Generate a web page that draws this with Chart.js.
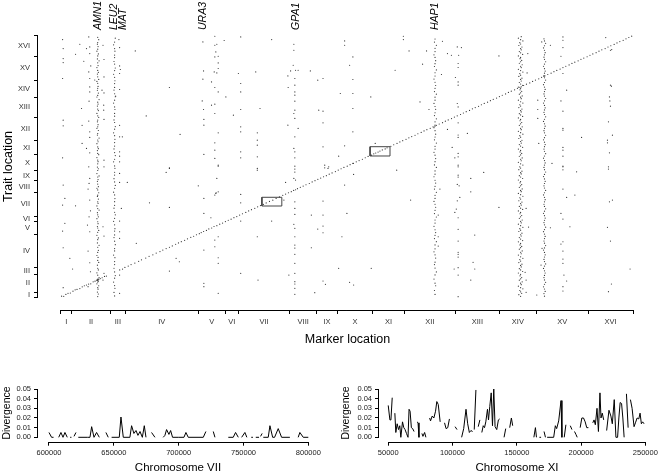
<!DOCTYPE html>
<html>
<head>
<meta charset="utf-8">
<script src="https://cdn.jsdelivr.net/npm/chart.js@4.4.0/dist/chart.umd.min.js"></script>
<style>
body { margin: 0; background: #fff; }
#wrap { position: relative; width: 661px; height: 474px; }
canvas { position: absolute; }
</style>
</head>
<body>
<div id="wrap">
<canvas id="main" width="661" height="350" style="left:0;top:0"></canvas>
<canvas id="chrVII" width="330" height="114" style="left:0;top:360px"></canvas>
<canvas id="chrXI" width="331" height="114" style="left:330px;top:360px"></canvas>
</div>
<script>
// chromosome layout (kb, cumulative genome position)
const chromNames = ['I','II','III','IV','V','VI','VII','VIII','IX','X','XI','XII','XIII','XIV','XV','XVI'];
const chromStarts = [0,230,1043,1360,2892,3469,3739,4830,5393,5833,6578,7245,8323,9247,10031,11122];
const genomeEnd = 12070;

// hotspot labels on top (marker position, kb)
const geneNames = ['AMN1','LEU2','MAT','URA3','GPA1','HAP1'];
const genePos = [787,1123,1312,3002,4964,7903];

// highlighted regions [x0, x1, y0, y1] in kb
const boxVII = [4240,4660,4208,4611];
const boxXI = [6522,6942,6521,6951];

// [marker kb, trait kb]
const diag = [[15,40],[60,30],[105,120],[150,170],[200,185],[255,270],[300,330],[340,350],[400,390],[450,470],[495,520],[540,555],[585,600],[630,610],[680,700],[720,730],[755,780],[780,790],[800,810],[830,850],[870,890],[920,950],[960,970],
[1240,1250],[1300,1290],[1350,1370],[1420,1430],[1480,1500],[1560,1570],[1640,1650],[1700,1720],[1790,1800],[1860,1880],[1940,1950],[2010,2030],[2090,2100],[2150,2170],[2220,2240],[2290,2300],[2350,2360],[2420,2440],[2480,2500],[2540,2560],[2610,2620],[2670,2690],[2740,2760],[2800,2810],[2860,2880],[2920,2930],[2960,2980],[3010,3030],[3070,3080],[3120,3150],[3180,3190],[3230,3260],[3290,3300],[3350,3370],[3410,3420],[3470,3490],[3530,3550],[3590,3600],[3650,3670],[3710,3720],[3770,3790],[3830,3850],[3900,3910],[3960,3980],[4020,4040],[4090,4100],[4150,4170],[4210,4230],[4270,4280],[4330,4350],[4400,4420],[4470,4480],[4540,4560],[4610,4630],[4680,4700],[4740,4760],[4800,4820],
[4860,4870],[4910,4930],[4950,4960],[4990,5010],[5050,5070],[5110,5130],[5170,5190],[5240,5250],[5300,5320],[5360,5380],[5420,5440],[5480,5500],[5540,5560],[5600,5610],[5660,5680],[5720,5740],[5790,5800],[5850,5870],[5910,5930],[5970,5990],[6040,6050],[6100,6120],[6170,6180],[6230,6250],[6290,6310],[6360,6370],[6420,6440],[6480,6500],[6550,6560],[6600,6620],[6640,6660],[6690,6700],[6730,6750],[6780,6800],[6840,6850],[6880,6900],[6960,6970],[7020,7040],[7090,7100],[7150,7170],[7210,7230],[7280,7290],[7340,7360],[7400,7420],[7470,7480],[7530,7550],[7600,7610],[7660,7680],[7720,7740],[7790,7800],[7850,7870],[7890,7900],[7920,7940],[7980,8000],[8050,8060],[8110,8130],[8170,8190],[8240,8250],[8300,8320],[8360,8380],[8430,8440],[8490,8510],[8550,8570],[8620,8630],[8680,8700],[8740,8760],[8810,8820],[8870,8890],[8930,8950],[9000,9010],[9060,9080],[9120,9140],[9190,9200],[9250,9270],[9310,9330],[9380,9390],[9440,9460],[9500,9520],[9570,9580],[9630,9650],[9680,9700],[9710,9720],[9760,9780],[9820,9840],[9890,9900],[9950,9970],[10010,10030],[10080,10090],[10140,10160],[10190,10200],[10210,10230],[10270,10290],[10340,10350],[10400,10420],[10460,10480],[10530,10540],[10590,10610],[10650,10670],[10720,10730],[10780,10800],[10840,10860],[10910,10920],[10970,10990],[11030,11050],[11100,11110],[11160,11180],[11220,11240],[11290,11300],[11350,11370],[11410,11430],[11480,11490],[11540,11560],[11600,11620],[11670,11680],[11730,11750],[11790,11810],[11860,11870],[11920,11940],[11980,12000],[12040,12060]];

const amn1 = [[777,20],[790,140],[770,230],[784,360],[777,430],[798,520],[760,610],[777,690],[790,730],[770,770],[777,800],[784,840],[805,900],[777,1010],[760,1120],[790,1250],[777,1330],[770,1470],[798,1600],[777,1690],[784,1830],[760,1920],[777,2060],[790,2160],[777,2300],[805,2390],[770,2500],[777,2650],[790,2730],[760,2850],[777,2990],[798,3080],[777,3190],[770,3260],[784,3390],[777,3480],[760,3620],[790,3710],[777,3800],[770,3900],[805,4020],[777,4090],[760,4210],[784,4330],[777,4400],[790,4530],[770,4650],[777,4710],[798,4820],[777,4950],[760,5030],[790,5100],[777,5220],[770,5350],[784,5430],[777,5550],[805,5600],[760,5710],[777,5850],[790,5930],[770,6010],[777,6160],[784,6260],[777,6330],[760,6450],[798,6580],[777,6640],[770,6770],[790,6860],[777,6940],[760,7090],[784,7180],[777,7260],[805,7350],[770,7490],[777,7560],[790,7700],[760,7800],[777,7870],[784,7970],[770,8100],[777,8180],[798,8310],[777,8380],[760,8490],[790,8620],[777,8690],[770,8830],[784,8920],[777,9010],[805,9130],[760,9250],[777,9320],[790,9430],[770,9560],[777,9650],[784,9740],[777,9880],[760,9970],[798,10060],[777,10180],[770,10310],[790,10390],[777,10480],[760,10610],[784,10700],[777,10830],[805,10920],[770,11010],[777,11150],[790,11240],[760,11370],[777,11460],[784,11580],[770,11690],[777,11770],[798,11900],[777,12010]];

const leu2 = [[1133,50],[1120,210],[1140,400],[1133,530],[1112,690],[1133,870],[1147,990],[1133,1160],[1120,1330],[1133,1500],[1133,1640],[1140,1820],[1112,1940],[1133,2130],[1133,2240],[1147,2420],[1133,2580],[1120,2750],[1133,2870],[1133,3050],[1140,3160],[1133,3340],[1112,3500],[1133,3640],[1147,3800],[1133,3920],[1120,4110],[1133,4240],[1133,4410],[1140,4550],[1133,4720],[1112,4850],[1133,5030],[1147,5160],[1133,5320],[1120,5470],[1133,5640],[1133,5770],[1140,5950],[1133,6060],[1112,6250],[1133,6370],[1147,6540],[1133,6680],[1120,6850],[1133,6980],[1133,7140],[1140,7290],[1133,7460],[1112,7590],[1133,7760],[1147,7880],[1133,8070],[1120,8190],[1133,8360],[1133,8490],[1140,8670],[1133,8790],[1112,8970],[1133,9100],[1147,9260],[1133,9400],[1120,9570],[1133,9690],[1133,9870],[1140,10000],[1133,10160],[1112,10300],[1133,10470],[1147,10590],[1133,10770],[1120,10890],[1133,11070],[1133,11190],[1140,11370],[1133,11490],[1112,11660],[1133,11790],[1147,11970]];

const leftCols = [[36,11906],[48,11490],[48,11028],[48,10843],[36,10104],[48,8177],[48,7914],[36,6436],[48,5174],[36,4250],[36,3049],[48,2277],[48,430],[84,4560],[84,3405],[189,1788],[246,1294],[309,4218],[309,11227],[399,11689],[435,8718],[447,7937],[447,7101],[483,10903],[540,11490],[540,6870],
[588,12026],[609,11564],[609,11259],[630,10686],[588,10409],[609,10104],[609,9716],[609,9485],[594,9055],[588,8135],[609,7637],[609,7378],[609,6667],[588,6020],[609,5484],[594,5253],[573,4990],[609,4481],[624,3987],[594,3710],[561,3326],[609,3017],[573,2125],[609,1584],[624,1168],[573,476],[714,10034],
[888,11642],[909,10982],[909,10178],[867,9563],[909,9439],[903,8870],[903,8639],[909,8210],[909,6329],[909,6020],[888,3248],[909,2818],[909,1095],[888,785],
[1224,11906],[1238,11536],[1238,10686],[1254,10520],[1238,10335],[1238,9596],[1155,9286],[1238,7937],[1238,7406],[1296,7406],[1238,6713],[1238,6514],[1238,6251],[1238,5715],[1238,5299],[1401,5299],[1275,4098],[1238,3511],[1238,3017],[1238,2712],[1238,1016],[1238,171]];

const midCols = [[1569,11379],[2289,9688],[1800,8376],[2514,7517],[2289,5974],[1590,2481],[1869,4357],[2220,5761],[2289,5946],[2289,4144],[2289,1201],[2430,1788],[2499,1631],[2898,5142],[3480,9254],[3639,8408],[3444,11861],[3744,10335],
[2995,11795],[3009,10455],[2995,10072],[2981,9069],[3009,8672],[3016,8210],[3016,7946],[3016,6593],[3016,4560],[3016,3867],[3016,2171],[3016,633],[3016,476],
[3247,12058],[3247,11642],[3289,11689],[3268,11333],[3247,11102],[3318,11134],[3318,10825],[3318,10566],[3234,10409],[3289,10363],[3177,9947],[3247,9688],[3318,9485],[3247,8917],[3177,8870],[3247,8487],[3318,7591],[3247,7129],[3247,6791],[3247,6408],[3318,6052],[3318,6098],[3289,5484],[3318,4865],[3247,4712],[3275,4820],[3268,4790],[3164,3664],[3247,2633],[3247,2324],[3318,1816],[3318,1557],[3318,171],[3318,2786],
[3793,12026],[3793,9873],[3793,9485],[3793,8672],[3793,7868],[3793,7637],[3793,6713],[3793,6436],[3793,4745],[3793,4357],[3793,3511],[3793,1095],
[4446,11906],[4110,10409],[4200,8718],[4143,7591],[4143,7253],[4143,7022],[4143,6482],[4143,5946],[4143,5867],[4158,785],[4143,2786],[4446,3511],[4740,5299],[4704,4481],[4788,10224],[4794,9688],[4788,7946],[4809,1016]];

const gpa1 = [[4914,11689],[4914,11411],[4900,10718],[4845,10455],[4949,10487],[5004,10487],[4935,10104],[4935,9794],[4935,9485],[4935,9332],[4935,9055],[4935,8639],[4914,8487],[4935,8256],[5004,7794],[4935,7406],[4914,6870],[4935,6713],[4935,6436],[4935,6052],[4935,5914],[4935,5775],[4914,5484],[4949,5405],[4935,4403],[4935,4098],[4935,3821],[4914,3359],[4935,3174],[4935,2786],[4935,2402],[4935,2264],[4935,1973],[4935,1557],[4935,1095],[4935,707],[4935,601],[4935,402],[4935,125],
[5262,10455],[5418,10025],[5529,10104],[5439,8639],[5529,8593],[5529,8053],[5529,6944],[5649,6020],[5565,6098],[5283,3788],[5418,3142],[5529,4435],[5529,3788],[5529,3280],[5529,2971],[5283,2278],[5529,739],[5580,587],[5355,199],[5634,5946],[5565,5974],
[5985,11841],[5985,11642],[6159,11102],[6090,10718],[6159,10058],[6159,9411],[5894,9411],[6159,8718],[6159,7637],[5985,6990],[5859,6514],[6159,6177],[6033,3867],[5985,5174],[5928,2786],[6174,5669],[5859,1326],[6090,679],[6174,554]];

const hap1 = [[7892,120],[7880,300],[7905,520],[7892,640],[7870,830],[7892,1020],[7920,1160],[7892,1340],[7880,1500],[7892,1610],[7905,1800],[7892,1950],[7870,2090],[7892,2230],[7892,2410],[7920,2560],[7880,2700],[7892,2850],[7905,2980],[7892,3110],[7870,3270],[7892,3420],[7892,3560],[7920,3700],[7880,3860],[7892,4010],[7905,4150],[7892,4290],[7870,4420],[7892,4560],[7892,4700],[7920,4840],[7880,4990],[7892,5120],[7905,5270],[7892,5400],[7870,5560],[7892,5680],[7892,5830],[7920,5990],[7880,6110],[7892,6260],[7905,6400],[7892,6560],[7870,6690],[7892,6840],[7892,6970],[7920,7120],[7880,7270],[7892,7400],[7905,7530],[7892,7690],[7870,7830],[7892,7950],[7892,8100],[7920,8240],[7880,8390],[7892,8520],[7905,8680],[7892,8810],[7870,8950],[7892,9100],[7892,9240],[7920,9380],[7880,9500],[7892,9650],[7905,9780],[7892,9930],[7870,10080],[7892,10220],[7892,10370],[7920,10500],[7880,10660],[7892,10790],[7905,10930],[7892,11080],[7870,11200],[7892,11350],[7892,11500],[7920,11640],[7880,11790],[7892,11930]];

const colXIII = [[8361,11564],[8390,11180],[8379,10797],[8379,10612],[8322,10150],[8379,9947],[8379,9794],[8361,8949],[8379,8792],[8379,8053],[8379,7491],[8379,7378],[8379,6639],[8379,6482],[8379,6098],[8379,6020],[8379,5636],[8379,5544],[8361,5207],[8400,5142],[8415,4606],[8361,4449],[8340,4066],[8310,3913],[8379,3664],[8379,3128],[8379,2587],[8379,2065],[8379,1973],[8379,1848],[8379,1354],[8379,1016],[8379,14]];

const rightScatter = [[6537,9254],[7050,10487],[7224,12058],[7224,11906],[7344,11379],[7713,11379],[7575,9023],[7629,10765],[7764,8672],[6546,1326],[7083,5867],[7377,4481],[6630,7101],[8049,11827],[8154,11259],[8238,11180],[8028,10289],[8154,7748],[8253,6916],[8310,6436],[8574,7563],[8448,11536],[7995,4990],[7959,3788],[7959,2786],[7959,2356],[8295,1294],[8919,5761],[8646,5484],[8646,4865],[9240,4144],[8730,2864],[8694,1603],[8730,1294],[8646,785],[9240,11148],[9849,11259],[9834,10363],[10059,9101],[10059,8672],[10059,8256],[10080,7101],[10359,6177],[10143,11795],[10326,11642],[10548,11134],[10668,9563],[10548,9069],[10983,7378],[11493,11998],[11619,11444],[9864,3234],[9813,4098],[9792,1141],[9813,785],[9813,217],[10038,92],[10128,1478],[10149,2250],[10326,3202],[10878,5789],[10668,4606],[10842,4712],[10737,3248],[10668,739],[12006,1294]];

const mkt1 = [[9697,30],[9660,110],[9720,170],[9697,240],[9680,300],[9745,380],[9697,430],[9650,500],[9710,570],[9697,640],[9730,700],[9670,780],[9697,840],[9720,900],[9685,980],[9697,1050],[9650,1110],[9740,1180],[9697,1250],[9670,1310],[9710,1390],[9697,1460],[9725,1520],[9660,1590],[9697,1660],[9680,1730],[9745,1790],[9697,1860],[9650,1940],[9710,2000],[9697,2070],[9730,2130],[9670,2210],[9697,2280],[9720,2340],[9685,2410],[9697,2480],[9650,2550],[9740,2610],[9697,2680],[9670,2750],[9710,2820],[9697,2880],[9725,2950],[9660,3030],[9697,3090],[9680,3160],[9745,3220],[9697,3300],[9650,3370],[9710,3430],[9697,3500],[9730,3560],[9670,3640],[9697,3710],[9720,3770],[9685,3850],[9697,3910],[9650,3980],[9740,4050],[9697,4110],[9670,4190],[9710,4250],[9697,4320],[9725,4390],[9660,4450],[9697,4530],[9680,4590],[9745,4660],[9697,4730],[9650,4790],[9710,4870],[9697,4930],[9730,5000],[9670,5070],[9697,5140],[9720,5200],[9685,5280],[9697,5340],[9650,5410],[9740,5480],[9697,5550],[9670,5610],[9710,5690],[9697,5750],[9725,5820],[9660,5890],[9697,5960],[9680,6020],[9745,6100],[9697,6160],[9650,6230],[9710,6300],[9697,6370],[9730,6430],[9670,6510],[9697,6570],[9720,6640],[9685,6710],[9697,6780],[9650,6840],[9740,6920],[9697,6980],[9670,7050],[9710,7120],[9697,7190],[9725,7250],[9660,7330],[9697,7390],[9680,7460],[9745,7530],[9697,7600],[9650,7660],[9710,7740],[9697,7800],[9730,7870],[9670,7940],[9697,8010],[9720,8070],[9685,8150],[9697,8210],[9650,8280],[9740,8350],[9697,8420],[9670,8480],[9710,8560],[9697,8620],[9725,8690],[9660,8760],[9697,8830],[9680,8890],[9745,8970],[9697,9030],[9650,9100],[9710,9170],[9697,9240],[9730,9300],[9670,9380],[9697,9440],[9720,9510],[9685,9580],[9697,9650],[9650,9710],[9740,9790],[9697,9850],[9670,9920],[9710,9990],[9697,10060],[9725,10120],[9660,10200],[9697,10260],[9680,10330],[9745,10400],[9697,10470],[9650,10530],[9710,10610],[9697,10670],[9730,10740],[9670,10810],[9697,10880],[9720,10940],[9685,11020],[9697,11080],[9650,11150],[9740,11220],[9697,11290],[9670,11350],[9710,11430],[9697,11490],[9725,11560],[9660,11630],[9697,11700],[9680,11760],[9745,11840],[9697,11900],[9650,11970],[9710,12040]];

const bandXV = [[10201,40],[10190,160],[10215,260],[10201,370],[10180,470],[10201,590],[10225,680],[10201,790],[10190,900],[10201,1000],[10215,1110],[10201,1210],[10180,1320],[10201,1430],[10225,1530],[10201,1640],[10190,1740],[10201,1850],[10215,1950],[10201,2060],[10180,2170],[10201,2270],[10225,2380],[10201,2490],[10190,2590],[10201,2700],[10215,2800],[10201,2910],[10180,3020],[10201,3120],[10225,3230],[10201,3340],[10190,3440],[10201,3550],[10215,3650],[10201,3760],[10180,3870],[10201,3970],[10225,4080],[10201,4190],[10190,4290],[10201,4400],[10215,4500],[10201,4610],[10180,4720],[10201,4820],[10225,4930],[10201,5040],[10190,5140],[10201,5250],[10215,5350],[10201,5460],[10180,5570],[10201,5670],[10225,5780],[10201,5890],[10190,5990],[10201,6100],[10215,6200],[10201,6310],[10180,6420],[10201,6520],[10225,6630],[10201,6740],[10190,6840],[10201,6950],[10215,7050],[10201,7160],[10180,7270],[10201,7370],[10225,7480],[10201,7590],[10190,7690],[10201,7800],[10215,7900],[10201,8010],[10180,8120],[10201,8220],[10225,8330],[10201,8440],[10190,8540],[10201,8650],[10215,8750],[10201,8860],[10180,8970],[10201,9070],[10225,9180],[10201,9290],[10190,9390],[10201,9500],[10215,9600],[10201,9710],[10180,9820],[10201,9920],[10225,10030],[10201,10140],[10190,10240],[10201,10350],[10215,10450],[10201,10560],[10180,10670],[10201,10770],[10225,10880],[10201,10990],[10190,11090],[10201,11200],[10215,11300],[10201,11410],[10180,11520],[10201,11620],[10225,11730],[10201,11840],[10190,11940]];

const colXV = [[10590,12026],[10590,11873],[10590,11536],[10590,10335],[10590,8593],[10590,7794],[10590,7715],[10590,6916],[10590,6791],[10590,6514],[10590,6052],[10590,6020],[10590,5881],[10590,4990],[10548,3867],[10590,3604],[10590,2555],[10548,2449],[10590,2125],[10590,1756],[10590,1557],[10611,1016],[10590,476],[10590,277]];

const colXVI = [[11592,11411],[11592,9794],[11613,9748],[11571,9254],[11580,9069],[11592,8824],[11550,8099],[11634,7484],[11529,7253],[11529,7129],[11571,6667],[11550,6020],[11550,5914],[11634,4481],[11571,4403],[11529,3220],[11592,2587],[11613,601],[11550,245]];

// divergence along chromosome VII and XI: [position bp, divergence], null = no data
const chrVIIDiv = [[600000,0.005],[602000,0],[603500,0],[605000,null],
[607500,0],[609200,0.005],[610800,0],[612300,0.005],[614100,0],[615000,null],
[616300,0],[617300,0],[618000,null],
[619300,0.001],[620800,0.005],[621500,null],
[622600,0],[629500,0],[631600,0],[632900,0.011],[634700,0],[636700,0.005],[638800,0],[641000,null],
[643900,0.005],[645700,0],[647000,null],
[648300,0],[654200,0],[655500,0.021],[657300,0],[662400,0],[663700,0.012],[665500,0.004],[667100,0.007],[668600,0.002],[670200,0.006],[672000,0],[673500,0.012],[674800,0],[677000,null],
[679100,0.005],[681700,0],[685000,null],
[688100,0],[689400,0.002],[690700,0.008],[692500,0.003],[693800,0.007],[695300,0],[699700,0],[704100,0],[705600,0.005],[707400,0],[719000,0],[721000,0.006],[724000,null],
[726700,0.006],[728000,0],[733000,null],
[738300,0],[742100,0],[743900,0.005],[746000,0],[747000,null],
[748600,0],[751100,0.005],[752600,0],[753200,null],
[756000,0],[757300,0],[758000,null],
[759500,0],[762000,0],[762700,null],
[763200,0.001],[764400,0.004],[765000,null],
[765300,0],[769100,0],[770400,0.012],[772500,0],[774000,0],[776800,0.009],[779400,0],[785800,0],[789000,null],
[792200,0],[793500,0.005],[796100,0],[800000,0]];

const chrXIDiv = [[50000,0.033],[51300,0.018],[52100,0.018],[53100,0.041],[54000,null],
[55150,0.025],[55900,0.005],[56950,0.014],[58000,0.008],[59000,0.012],[59800,0],[61100,0.016],[62100,0.01],[63100,0.008],[64200,0.004],[65400,0],[66200,0.029],[67000,0.027],[68000,0.01],[69000,0.009],[70100,0.006],[71000,null],
[72400,0.016],[73200,0.015],[73900,0],[75000,null],
[76200,0.004],[77000,0.001],[78300,0.005],[79300,0],[80500,null],
[82200,0.02],[82900,0.017],[84200,0.022],[85500,0.02],[86800,0.027],[87800,0.037],[88900,0.034],[90400,0.016],[92000,null],
[93800,0.015],[95000,0.009],[96300,0.01],[97600,0.019],[99000,null],
[102000,0.011],[103500,0.008],[105000,null],
[107100,0],[108700,0.009],[110500,0.029],[111800,0.014],[113100,0.005],[114300,0.007],[115600,0.006],[116300,null],
[116900,0.008],[118200,0.049],[119000,null],
[120000,0.011],[121300,0.018],[122000,null],
[122800,0.005],[123900,0.012],[124900,0.01],[125900,0.016],[127200,0.029],[128000,0.018],[129000,0.032],[130100,0.046],[131100,0.012],[132100,0.05],[133100,0.011],[134400,0.008],[135700,0.018],[136700,0.019],[138000,null],
[140100,0],[141400,0.009],[143000,null],
[144500,0.01],[145800,0.02],[146800,0.012],[148000,null],
[163300,0],[164500,0.01],[165300,0],[166500,null],
[167600,0],[168900,0],[170000,null],
[171200,0.006],[172300,0],[173000,null],
[173600,0],[178700,0],[180000,0.012],[181000,0.009],[182600,0.017],[184400,0.038],[185100,0],[186000,null],
[186900,0],[188200,0.013],[189500,null],
[191600,0.012],[192900,0.008],[194000,null],
[194900,0.006],[196000,0.003],[197000,0],[198000,null],
[199300,0.01],[200600,0.02],[201900,0.02],[203200,0.016],[204400,0.01],[205700,0.01],[207500,null],
[209100,0.015],[210100,0.018],[211100,0.013],[212400,0.03],[213500,0.006],[214700,0.046],[215500,0.02],[216500,0.025],[217600,0.018],[218800,null],
[219900,0.007],[221700,0.028],[223200,0.022],[224300,0.014],[225800,0.039],[227100,0],[228400,0],[229400,0.02],[230400,0.036],[231500,0.035],[232500,0.02],[233500,0],[234400,null],
[235300,0.045],[236600,0.01],[237500,null],
[238400,0.039],[239700,0.03],[240200,0.03],[241200,0.011],[242300,0.015],[243600,0.02],[244900,0.019],[245900,0.025],[246900,0.014],[247900,0.016],[249000,0.014]];

const viiTicks = [600000,650000,700000,750000,800000];
const xiTicks = [50000,100000,150000,200000,250000];
const divTicks = [0,0.01,0.02,0.03,0.04,0.05];

Chart.defaults.font.family = '"Liberation Sans", Arial, Helvetica, sans-serif';
Chart.defaults.color = '#000';
Chart.defaults.animation = false;

// chromosome boundaries carry tick marks, midpoints carry names
const chromTicks = [];
chromStarts.forEach((s, i) => {
  const e = i < chromStarts.length - 1 ? chromStarts[i + 1] : genomeEnd;
  chromTicks.push(s, (s + e) / 2);
});
chromTicks.push(genomeEnd);

// R-style detached axis lines spanning the tick range only
const rAxes = {
  id: 'rAxes',
  afterDraw(chart, args, opts) {
    const {ctx, chartArea, scales} = chart;
    ctx.save();
    ctx.strokeStyle = '#000';
    ctx.lineWidth = 1;
    ctx.beginPath();
    const yb = Math.round(chartArea.bottom) + 0.5;
    const xl = Math.round(chartArea.left) - 0.5;
    ctx.moveTo(scales.x.getPixelForValue(opts.x[0]), yb);
    ctx.lineTo(scales.x.getPixelForValue(opts.x[1]), yb);
    ctx.moveTo(xl, scales.y.getPixelForValue(opts.y[0]));
    ctx.lineTo(xl, scales.y.getPixelForValue(opts.y[1]));
    ctx.stroke();
    ctx.restore();
  }
};

const geneLabels = {
  id: 'geneLabels',
  afterDraw(chart) {
    const ctx = chart.ctx;
    const xs = chart.scales.x;
    ctx.save();
    ctx.font = 'italic 10.5px "Liberation Sans", Arial, sans-serif';
    ctx.fillStyle = '#000';
    ctx.textAlign = 'left';
    ctx.textBaseline = 'middle';
    geneNames.forEach((name, i) => {
      ctx.save();
      ctx.translate(xs.getPixelForValue(genePos[i]), 30);
      ctx.rotate(-Math.PI / 2);
      ctx.fillText(name, 0, 0);
      ctx.restore();
    });
    ctx.restore();
  }
};

const boxData = b => [{x: b[0], y: b[2]}, {x: b[1], y: b[2]}, {x: b[1], y: b[3]}, {x: b[0], y: b[3]}, {x: b[0], y: b[2]}];
const allPoints = [diag, amn1, leu2, leftCols, midCols, gpa1, hap1, colXIII, rightScatter, mkt1, bandXV, colXV, colXVI]
  .flat().map(p => ({x: p[0], y: p[1]}));

const tickMarkColor = c => (c.index % 2 ? 'rgba(0,0,0,0)' : '#000');

new Chart(document.getElementById('main'), {
  type: 'scatter',
  data: {
    datasets: [
      {
        data: allPoints,
        pointRadius: 0.6,
        pointBorderWidth: 0,
        pointBackgroundColor: '#333'
      },
      {
        data: boxData(boxVII),
        showLine: true,
        pointRadius: 0,
        borderColor: '#444',
        borderWidth: 1
      },
      {
        data: boxData(boxXI),
        showLine: true,
        pointRadius: 0,
        borderColor: '#444',
        borderWidth: 1
      }
    ]
  },
  options: {
    responsive: false,
    events: [],
    layout: {padding: {top: 23, right: 1, left: 0, bottom: 0}},
    plugins: {
      legend: {display: false},
      tooltip: {enabled: false},
      rAxes: {x: [0, genomeEnd], y: [0, genomeEnd]}
    },
    scales: {
      x: {
        type: 'linear',
        min: -483,
        max: 12574,
        afterBuildTicks: s => { s.ticks = chromTicks.map(v => ({value: v})); },
        afterFit: s => { s.height = 40; },
        border: {display: false},
        grid: {drawOnChartArea: false, tickLength: 4, color: tickMarkColor},
        ticks: {
          autoSkip: false, maxRotation: 0, minRotation: 0, padding: 3,
          color: '#333', font: {size: 7.5},
          callback: (v, i) => (i % 2 ? chromNames[(i - 1) / 2] : '')
        },
        title: {display: true, text: 'Marker location', font: {size: 12.5}, padding: {top: 0, bottom: 3}}
      },
      y: {
        type: 'linear',
        min: -601,
        max: 12671,
        afterBuildTicks: s => { s.ticks = chromTicks.map(v => ({value: v})); },
        afterFit: s => { s.width = 38; },
        border: {display: false},
        grid: {drawOnChartArea: false, tickLength: 4, color: tickMarkColor},
        ticks: {
          autoSkip: false, padding: 4,
          color: '#333', font: {size: 7.5},
          callback: (v, i) => (i % 2 ? chromNames[(i - 1) / 2] : '')
        },
        title: {display: true, text: 'Trait location', font: {size: 12.5}, padding: {top: 1, bottom: 0}}
      }
    }
  },
  plugins: [rAxes, geneLabels]
});

function divergenceChart(id, rows, ticks, range, title, pad, yWidth) {
  return new Chart(document.getElementById(id), {
    type: 'line',
    data: {
      datasets: [{
        data: rows.map(r => ({x: r[0], y: r[1]})),
        borderColor: '#000',
        borderWidth: 1,
        pointRadius: 0,
        tension: 0,
        spanGaps: false
      }]
    },
    options: {
      responsive: false,
      events: [],
      layout: {padding: pad},
      plugins: {
        legend: {display: false},
        tooltip: {enabled: false},
        rAxes: {x: [ticks[0], ticks[ticks.length - 1]], y: [0, 0.05]}
      },
      scales: {
        x: {
          type: 'linear',
          min: range[0],
          max: range[1],
          afterBuildTicks: s => { s.ticks = ticks.map(v => ({value: v})); },
          afterFit: s => { s.height = 32.3; },
          border: {display: false},
          grid: {drawOnChartArea: false, tickLength: 4, color: '#000'},
          ticks: {autoSkip: false, maxRotation: 0, padding: 3, color: '#222', font: {size: 7.5}, callback: v => String(v)},
          title: {display: true, text: title, font: {size: 11.5, lineHeight: 1}, padding: {top: 0, bottom: 0}}
        },
        y: {
          type: 'linear',
          min: -0.00455,
          max: 0.05487,
          afterBuildTicks: s => { s.ticks = divTicks.map(v => ({value: v})); },
          afterFit: s => { s.width = yWidth; },
          border: {display: false},
          grid: {drawOnChartArea: false, tickLength: 4, color: '#000'},
          ticks: {autoSkip: false, padding: 3, color: '#222', font: {size: 7.5}, callback: v => v.toFixed(2)},
          title: {display: true, text: 'Divergence', font: {size: 10.5}, padding: {top: 1, bottom: 0}}
        }
      }
    },
    plugins: [rAxes]
  });
}

divergenceChart('chrVII', chrVIIDiv, viiTicks, [591516, 807482], 'Chromosome VII',
  {top: 24.3, right: 12, left: 0, bottom: 0}, 38);
divergenceChart('chrXI', chrXIDiv, xiTicks, [42819, 257490], 'Chromosome XI',
  {top: 24.3, right: 4, left: 9, bottom: 0}, 40);
</script>
</body>
</html>
